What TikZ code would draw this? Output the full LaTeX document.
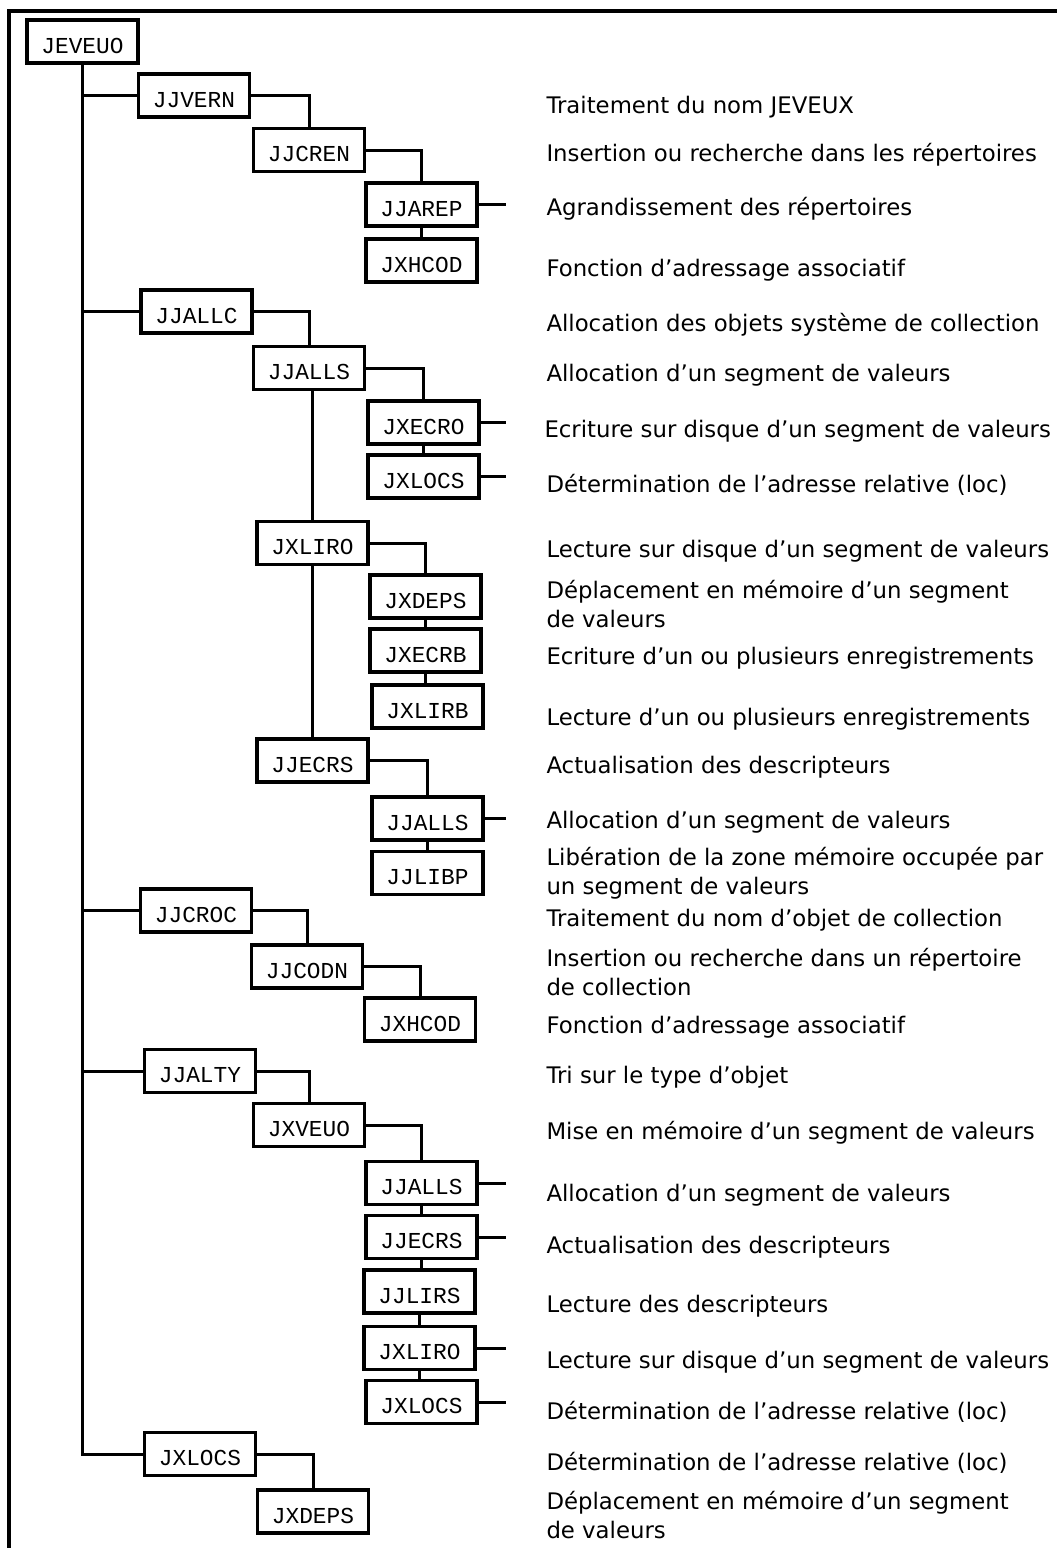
\documentclass[tikz,border=0pt]{standalone}
\usepackage{fontspec}
\setmainfont{DejaVu Sans}
\newfontfamily\rtnfont{Liberation Mono}

\begin{document}
\begin{tikzpicture}[x=1pt,y=-1pt,line width=3pt]
\tikzstyle{rtn}=[draw,line width=3.6pt,minimum width=111pt,minimum height=43pt,inner sep=0pt,text height=23pt,text depth=0pt,font=\rtnfont\fontsize{22.8}{24}\selectfont]
\tikzstyle{dsc}=[anchor=base west,inner sep=0pt,align=left,font=\fontsize{22.8}{29}\selectfont]
\useasboundingbox (0,0) rectangle (1057,1548);
% cadre
\coordinate (fbl) at (9,1570);
\coordinate (ftr) at (1080,11);
\draw[line width=4pt] (fbl) |- (ftr);
\coordinate (stub) at (506,0);
% routines
\node[rtn] (jeveuo) at (82.5,41.5) {JEVEUO};
\node[rtn] (jjvern) at (194,95.5) {JJVERN};
\node[rtn] (jjcren) at (309,150) {JJCREN};
\node[rtn] (jjarep) at (421.5,204.5) {JJAREP};
\node[rtn] (jxhcod) at (421.5,260.5) {JXHCOD};
\node[rtn] (jjallc) at (196.5,311.5) {JJALLC};
\node[rtn] (jjalls) at (309,368) {JJALLS};
\node[rtn] (jxecro) at (423.5,422.5) {JXECRO};
\node[rtn] (jxlocs) at (423.5,476.5) {JXLOCS};
\node[rtn] (jxliro) at (312.5,543) {JXLIRO};
\node[rtn] (jxdeps) at (425.5,596.5) {JXDEPS};
\node[rtn] (jxecrb) at (425.5,650.5) {JXECRB};
\node[rtn] (jxlirb) at (427.5,706.5) {JXLIRB};
\node[rtn] (jjecrs) at (312.5,760.5) {JJECRS};
\node[rtn] (jjallsb) at (427.5,818.5) {JJALLS};
\node[rtn] (jjlibp) at (427.5,873) {JJLIBP};
\node[rtn] (jjcroc) at (196,910.5) {JJCROC};
\node[rtn] (jjcodn) at (307,966.5) {JJCODN};
\node[rtn] (jxhcodb) at (420,1019.5) {JXHCOD};
\node[rtn] (jjalty) at (200,1071) {JJALTY};
\node[rtn] (jxveuo) at (309,1125) {JXVEUO};
\node[rtn] (jjallsc) at (421.5,1183) {JJALLS};
\node[rtn] (jjecrsb) at (421.5,1237) {JJECRS};
\node[rtn] (jjlirs) at (419.5,1291.5) {JJLIRS};
\node[rtn] (jxlirob) at (419.5,1348) {JXLIRO};
\node[rtn] (jxlocsb) at (421.5,1402) {JXLOCS};
\node[rtn] (jxlocsc) at (200,1454) {JXLOCS};
\node[rtn] (jxdepsb) at (313,1511.5) {JXDEPS};
% arbre
\draw (jeveuo.south) |- (jxlocsc.west);
\draw (jeveuo.south |- jjvern.west) -- (jjvern.west);
\draw (jeveuo.south |- jjallc.west) -- (jjallc.west);
\draw (jeveuo.south |- jjcroc.west) -- (jjcroc.west);
\draw (jeveuo.south |- jjalty.west) -- (jjalty.west);
\draw (jjvern.east) -| (jjcren.north);
\draw (jjcren.east) -| (jjarep.north);
\draw (jjarep.south) -- (jjarep.south |- jxhcod.north);
\draw (jjallc.east) -| (jjalls.north);
\draw (jjalls.east) -| (jxecro.north);
\draw (jxecro.south) -- (jxecro.south |- jxlocs.north);
\draw (jxliro.north |- jjalls.south) -- (jxliro.north);
\draw (jxliro.south) -- (jjecrs.north);
\draw (jxliro.east) -| (jxdeps.north);
\draw (jxdeps.south) -- (jxdeps.south |- jxecrb.north);
\draw (jxecrb.south) -- (jxecrb.south |- jxlirb.north);
\draw (jjecrs.east) -| (jjallsb.north);
\draw (jjallsb.south) -- (jjallsb.south |- jjlibp.north);
\draw (jjcroc.east) -| (jjcodn.north);
\draw (jjcodn.east) -| (jxhcodb.north);
\draw (jjalty.east) -| (jxveuo.north);
\draw (jxveuo.east) -| (jjallsc.north);
\draw (jjallsc.south) -- (jjallsc.south |- jjecrsb.north);
\draw (jjecrsb.south) -- (jjecrsb.south |- jjlirs.north);
\draw (jjlirs.south) -- (jjlirs.south |- jxlirob.north);
\draw (jxlirob.south) -- (jxlirob.south |- jxlocsb.north);
\draw (jxlocsc.east) -| (jxdepsb.north);
% traits vers les commentaires
\draw (jjarep.east) -- (jjarep.east -| stub);
\draw (jxecro.east) -- (jxecro.east -| stub);
\draw (jxlocs.east) -- (jxlocs.east -| stub);
\draw (jjallsb.east) -- (jjallsb.east -| stub);
\draw (jjallsc.east) -- (jjallsc.east -| stub);
\draw (jjecrsb.east) -- (jjecrsb.east -| stub);
\draw (jxlirob.east) -- (jxlirob.east -| stub);
\draw (jxlocsb.east) -- (jxlocsb.east -| stub);
% commentaires (base = derniere ligne)
\node[dsc] (c-jjvern) at (545,113) {Traitement du nom JEVEUX};
\node[dsc] (c-jjcren) at (545,161.5) {Insertion ou recherche dans les répertoires};
\node[dsc] (c-jjarep) at (545,215) {Agrandissement des répertoires};
\node[dsc] (c-jxhcod) at (545,276) {Fonction d'adressage associatif};
\node[dsc] (c-jjallc) at (545,331.5) {Allocation des objets système de collection};
\node[dsc] (c-jjalls) at (545,381.5) {Allocation d'un segment de valeurs};
\node[dsc] (c-jxecro) at (543,437.5) {Ecriture sur disque d'un segment de valeurs};
\node[dsc] (c-jxlocs) at (545,492.5) {Détermination de l'adresse relative (loc)};
\node[dsc] (c-jxliro) at (545,557.5) {Lecture sur disque d'un segment de valeurs};
\node[dsc] (c-jxdeps) at (545,627.5) {Déplacement en mémoire d'un segment\\de valeurs};
\node[dsc] (c-jxecrb) at (545,664.5) {Ecriture d'un ou plusieurs enregistrements};
\node[dsc] (c-jxlirb) at (545,725.5) {Lecture d'un ou plusieurs enregistrements};
\node[dsc] (c-jjecrs) at (545,773.5) {Actualisation des descripteurs};
\node[dsc] (c-jjallsb) at (545,828.5) {Allocation d'un segment de valeurs};
\node[dsc] (c-jjlibp) at (545,894) {Libération de la zone mémoire occupée par\\un segment de valeurs};
\node[dsc] (c-jjcroc) at (545,926.5) {Traitement du nom d'objet de collection};
\node[dsc] (c-jjcodn) at (545,995) {Insertion ou recherche dans un répertoire\\de collection};
\node[dsc] (c-jxhcodb) at (545,1033.5) {Fonction d'adressage associatif};
\node[dsc] (c-jjalty) at (545,1083.5) {Tri sur le type d'objet};
\node[dsc] (c-jxveuo) at (545,1139.5) {Mise en mémoire d'un segment de valeurs};
\node[dsc] (c-jjallsc) at (545,1201.5) {Allocation d'un segment de valeurs};
\node[dsc] (c-jjecrsb) at (545,1253.5) {Actualisation des descripteurs};
\node[dsc] (c-jjlirs) at (545,1312.5) {Lecture des descripteurs};
\node[dsc] (c-jxlirob) at (545,1368.5) {Lecture sur disque d'un segment de valeurs};
\node[dsc] (c-jxlocsb) at (545,1419.5) {Détermination de l'adresse relative (loc)};
\node[dsc] (c-jxlocsc) at (545,1470.5) {Détermination de l'adresse relative (loc)};
\node[dsc] (c-jxdepsb) at (545,1538.5) {Déplacement en mémoire d'un segment\\de valeurs};
\end{tikzpicture}
\end{document}
